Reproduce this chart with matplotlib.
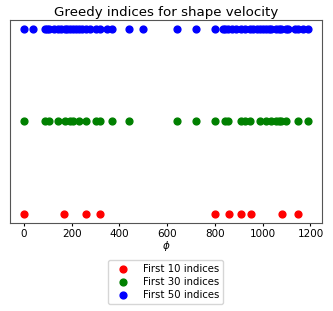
import matplotlib
matplotlib.use("Agg")
import matplotlib.pyplot as plt

# phi values of the selected indices
first_10 = [0, 170, 260, 320, 800, 860, 910, 950, 1080, 1150]
first_30 = [0, 88, 106, 141, 171, 192, 206, 231, 262, 300, 318, 371, 439, 641, 721,
            802, 841, 855, 908, 924, 945, 990, 1015, 1036, 1057, 1068, 1078, 1099, 1150, 1189]
first_50 = first_30 + [39, 97, 125, 155, 182, 218, 245, 275, 348, 499, 832, 870, 890,
                       960, 975, 1003, 1026, 1105, 1137, 1168]

levels = [0, 1, 2]
labels = ["First 10 indices", "First 30 indices", "First 50 indices"]
colors = ["red", "green", "blue"]

fig = plt.figure(figsize=(3.33, 3.11), dpi=100)
ax = fig.add_axes([0.029, 0.283, 0.938, 0.653])

for vals, lvl, lab, col in zip([first_10, first_30, first_50], levels, labels, colors):
    ax.scatter(vals, [lvl] * len(vals), s=24, color=col, label=lab)

ax.set_yticks([])
ax.set_xticks([0, 200, 400, 600, 800, 1000, 1200])
ax.tick_params(axis="x", labelsize=7.5, length=2.5, pad=1.5)
ax.set_xlabel(r"$\phi$", fontsize=7.5, labelpad=0)
ax.set_title("Greedy indices for shape velocity", fontsize=9.6, pad=3)
for s in ax.spines.values():
    s.set_color("#555555")
    s.set_linewidth(0.8)

ax.legend(loc="upper center", bbox_to_anchor=(0.5, -0.155), fontsize=7.3,
          handletextpad=1.0, borderpad=0.4, labelspacing=0.3)

fig.savefig("out.png", dpi=100)
